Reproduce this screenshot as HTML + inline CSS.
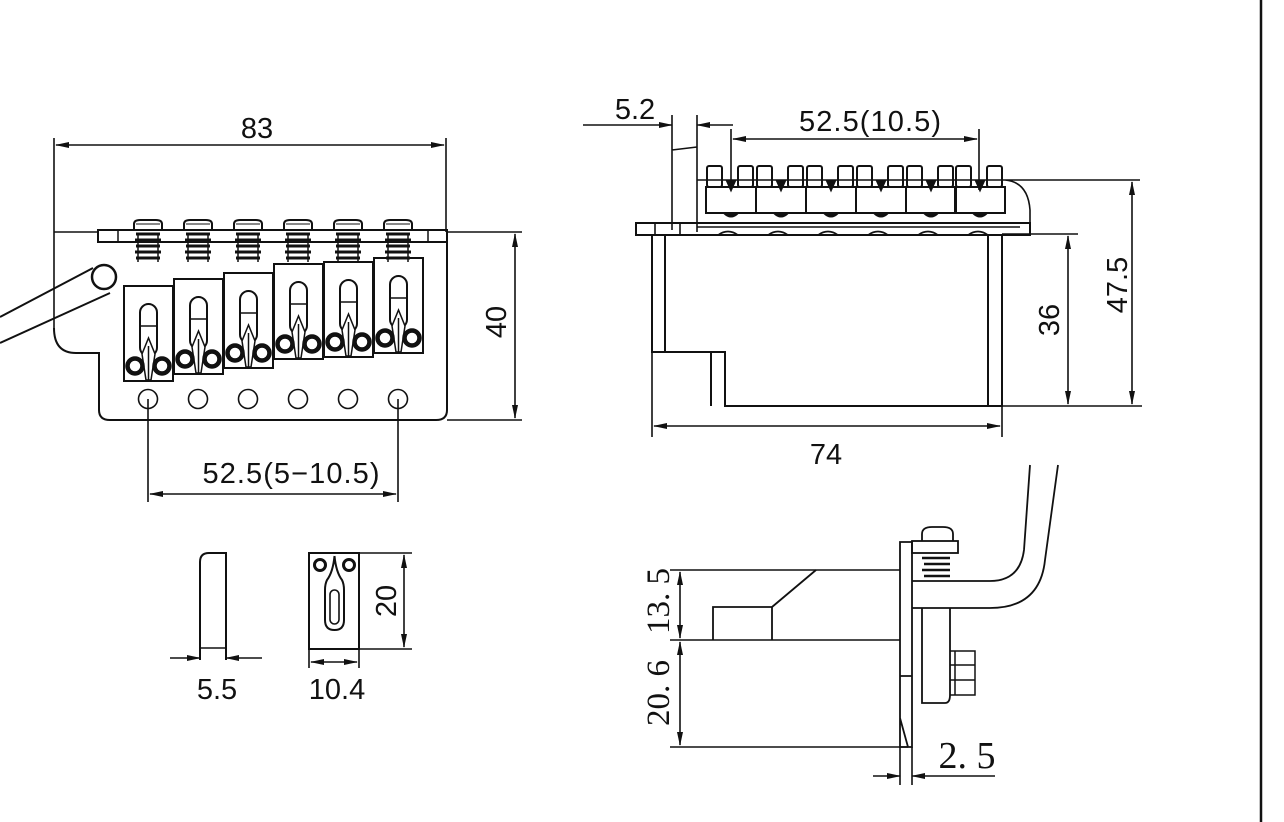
<!DOCTYPE html>
<html><head><meta charset="utf-8"><style>
html,body{margin:0;padding:0;background:#fff;}
svg{display:block;}
text{font-family:"Liberation Sans",sans-serif;fill:#111;}
.s{font-family:"Liberation Serif","Noto Serif CJK SC",serif;}
</style></head><body>
<svg width="1284" height="822" viewBox="0 0 1284 822" xmlns="http://www.w3.org/2000/svg">
<defs>
<marker id="a" markerWidth="14" markerHeight="8" refX="13" refY="4" orient="auto-start-reverse" markerUnits="userSpaceOnUse"><path d="M0,1 L14,4 L0,7 z" fill="#111"/></marker>
<g id="sad" fill="none" stroke="#111">
<rect x="0" y="0" width="49" height="95" stroke-width="2"/>
<rect x="16" y="18" width="17" height="52" rx="8.5" stroke-width="2"/>
<path d="M16,40 H33" stroke-width="1.5"/>
<path d="M24.5,52 L18,68 L22,94 L27,94 L31,68 Z" stroke-width="1.5" fill="#fff"/>
<path d="M24.5,60 V94" stroke-width="1.5"/>
<circle cx="11" cy="80" r="7.5" stroke-width="4.5"/>
<circle cx="38" cy="80" r="7.5" stroke-width="4.5"/>
</g>
<g id="scr" fill="none" stroke="#111" stroke-width="2">
<path d="M-14,10 V4 Q-14,0 -8,0 H8 Q14,0 14,4 V10"/>
<path d="M-12,4 H12" stroke-width="1"/>
<path d="M-12,14 H12 M-13,20 H13 M-12,26 H12 M-13,32 H13 M-12,38 H12" stroke-width="3"/>
<path d="M-10,14 V42 M10,14 V42" stroke-width="1.5"/>
</g>
<g id="sd2" fill="none" stroke="#111" stroke-width="2">
<rect x="0" y="0" width="50" height="26"/>
<rect x="1" y="-21" width="15" height="21" rx="2"/>
<rect x="32" y="-21" width="15" height="21" rx="2"/>
<path d="M21,-6 L29,-6 L25,3 Z" fill="#111"/>
<path d="M18,26 Q25,33 32,26" fill="#111"/>
</g>
</defs>

<line x1="1261" y1="0" x2="1261" y2="822" stroke="#111" stroke-width="2.5"/>

<g fill="none" stroke="#111" stroke-width="1.6">
<!-- LEFT VIEW -->
<line x1="54" y1="138" x2="54" y2="328"/>
<line x1="446" y1="138" x2="446" y2="232"/>
<line x1="56" y1="145" x2="444" y2="145" marker-start="url(#a)" marker-end="url(#a)"/>
<text x="257" y="138" font-size="29" text-anchor="middle" stroke="none">83</text>
<path d="M54,232 H98"/>
<path d="M54,328 Q54,353 76,353 H99 V410 Q99,420 110,420 H436 Q447,420 447,410 V242" stroke-width="2"/>
<rect x="98" y="230" width="349" height="12" stroke-width="2"/>
<path d="M118,230 V242 M428,230 V242" stroke-width="1.5"/>
<path d="M447,232 H522 M447,420 H522"/>
<line x1="515" y1="234" x2="515" y2="418" marker-start="url(#a)" marker-end="url(#a)"/>
<text x="0" y="0" font-size="29" text-anchor="middle" stroke="none" transform="translate(506,322) rotate(-90)">40</text>
<path d="M0,317 L93,268 M0,343 L110,293" stroke-width="2"/>
<circle cx="104" cy="277" r="12" stroke-width="2.5"/>
<use href="#scr" x="148" y="220"/>
<use href="#scr" x="198" y="220"/>
<use href="#scr" x="248" y="220"/>
<use href="#scr" x="298" y="220"/>
<use href="#scr" x="348" y="220"/>
<use href="#scr" x="398" y="220"/>
<use href="#sad" x="124" y="286"/>
<use href="#sad" x="174" y="279"/>
<use href="#sad" x="224" y="273"/>
<use href="#sad" x="274" y="264"/>
<use href="#sad" x="324" y="262"/>
<use href="#sad" x="374" y="258"/>
<circle cx="148" cy="399" r="9.5"/><circle cx="198" cy="399" r="9.5"/><circle cx="248" cy="399" r="9.5"/>
<circle cx="298" cy="399" r="9.5"/><circle cx="348" cy="399" r="9.5"/><circle cx="398" cy="399" r="9.5"/>
<path d="M148,399 V502 M398,399 V502"/>
<line x1="150" y1="494" x2="396" y2="494" marker-start="url(#a)" marker-end="url(#a)"/>
<text x="291" y="483" font-size="29" text-anchor="middle" stroke="none" textLength="177">52.5(5−10.5)</text>

<!-- small saddle views -->
<path d="M200,649 V562 Q200,553 209,553 H226 V660 M200,649 V660" stroke-width="2"/>
<path d="M200,648 H226"/>
<line x1="170" y1="658" x2="200" y2="658" marker-end="url(#a)"/>
<line x1="262" y1="658" x2="226" y2="658" marker-end="url(#a)"/>
<text x="217" y="699" font-size="29" text-anchor="middle" stroke="none">5.5</text>
<rect x="309" y="553" width="50" height="96" stroke-width="2"/>
<circle cx="320" cy="565" r="5.5" stroke-width="3"/><circle cx="349" cy="565" r="5.5" stroke-width="3"/>
<path d="M334.5,556 Q333,572 327,580 Q325,584 325,590 V620 Q325,630 334.5,630 Q344,630 344,620 V590 Q344,584 342,580 Q336,572 334.5,556" stroke-width="2"/>
<rect x="330" y="590" width="9" height="34" rx="4.5"/>
<path d="M309,649 V668 M359,649 V668 M359,553 H412 M359,649 H412"/>
<line x1="311" y1="662" x2="357" y2="662" marker-start="url(#a)" marker-end="url(#a)"/>
<text x="337" y="699" font-size="29" text-anchor="middle" stroke="none">10.4</text>
<line x1="404" y1="555" x2="404" y2="647" marker-start="url(#a)" marker-end="url(#a)"/>
<text x="0" y="0" font-size="29" text-anchor="middle" stroke="none" transform="translate(396,601) rotate(-90)">20</text>

<!-- RIGHT VIEW -->
<text x="635" y="119" font-size="29" text-anchor="middle" stroke="none">5.2</text>
<line x1="583" y1="125" x2="672" y2="125" marker-end="url(#a)"/>
<line x1="733" y1="125" x2="697" y2="125" marker-end="url(#a)"/>
<path d="M672,115 V230 M697,115 V232 M672,150 L697,147"/>
<text x="870" y="131" font-size="29" text-anchor="middle" stroke="none" textLength="142">52.5(10.5)</text>
<path d="M731,129 V190 M979,129 V190"/>
<line x1="733" y1="139" x2="977" y2="139" marker-start="url(#a)" marker-end="url(#a)"/>
<path d="M697,180 H1005 Q1028,182 1030,210 V235 M1005,180 H1140" />
<use href="#sd2" x="706" y="187"/>
<use href="#sd2" x="756" y="187"/>
<use href="#sd2" x="806" y="187"/>
<use href="#sd2" x="856" y="187"/>
<use href="#sd2" x="906" y="187"/>
<use href="#sd2" x="955" y="187"/>
<rect x="636" y="223" width="394" height="12" stroke-width="2"/>
<path d="M655,223 V235 M680,223 V235 M697,227 H1020"/>
<path d="M718,235 Q728,228 738,235 M768,235 Q778,228 788,235 M818,235 Q828,228 838,235 M868,235 Q878,228 888,235 M918,235 Q928,228 938,235 M968,235 Q978,228 988,235"/>
<path d="M652,235 V352 H725 V406 H1002 V235 M665,235 V352 M711,352 V406 M988,235 V406" stroke-width="2"/>
<path d="M1002,234 H1078 M1002,406 H1142 M652,352 V437 M1002,406 V437"/>
<line x1="654" y1="426" x2="1000" y2="426" marker-start="url(#a)" marker-end="url(#a)"/>
<text x="826" y="464" font-size="29" text-anchor="middle" stroke="none">74</text>
<line x1="1068" y1="236" x2="1068" y2="404" marker-start="url(#a)" marker-end="url(#a)"/>
<text x="0" y="0" font-size="29" text-anchor="middle" stroke="none" transform="translate(1059,320) rotate(-90)">36</text>
<line x1="1132" y1="182" x2="1132" y2="404" marker-start="url(#a)" marker-end="url(#a)"/>
<text x="0" y="0" font-size="29" text-anchor="middle" stroke="none" transform="translate(1127,285) rotate(-90)">47.5</text>

<!-- BOTTOM RIGHT VIEW -->
<path d="M670,570 H900 M670,640 H900 M670,747 H908"/>
<line x1="680" y1="572" x2="680" y2="638" marker-start="url(#a)" marker-end="url(#a)"/>
<line x1="680" y1="642" x2="680" y2="745" marker-start="url(#a)" marker-end="url(#a)"/>
<text class="s" x="0" y="0" font-size="33" text-anchor="middle" stroke="none" transform="translate(669,601) rotate(-90)">13. 5</text>
<text class="s" x="0" y="0" font-size="33" text-anchor="middle" stroke="none" transform="translate(669,693) rotate(-90)">20. 6</text>
<path d="M713,640 V607 H772 V640 M772,607 L816,570" stroke-width="1.8"/>
<path d="M900,542 V747 H912 V542 Z M900,676 H912 M900,718 L908,747" stroke-width="1.8"/>
<rect x="912" y="541" width="46" height="12" stroke-width="1.8"/>
<path d="M922,541 V534 Q922,527 932,527 H943 Q953,527 953,534 V541" stroke-width="1.8"/>
<path d="M922,558 H950 M924,564 H950 M922,570 H950 M924,576 H950" stroke-width="2.5"/>
<path d="M912,581 H990 Q1020,581 1024,550 L1030,465 M912,608 H990 Q1040,608 1045,560 L1058,465" stroke-width="1.8"/>
<path d="M922,608 V703 H945 Q950,703 950,695 V608" stroke-width="1.8"/>
<path d="M950,651 H975 V695 H950 M955,651 V695 M950,665 H975 M950,680 H975" stroke-width="1.5"/>
<path d="M900,747 V785 M912,747 V785"/>
<line x1="873" y1="776" x2="900" y2="776" marker-end="url(#a)"/>
<line x1="995" y1="776" x2="912" y2="776" marker-end="url(#a)"/>
<text class="s" x="967" y="768" font-size="38" text-anchor="middle" stroke="none">2. 5</text>
</g>
</svg>
</body></html>
